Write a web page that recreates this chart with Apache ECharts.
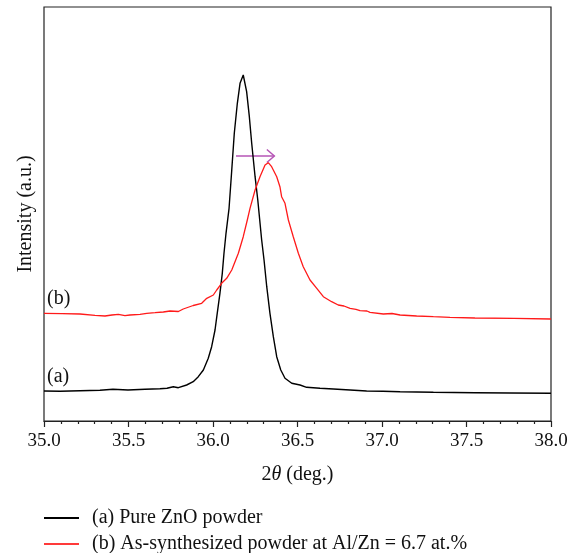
<!DOCTYPE html>
<html>
<head>
<meta charset="utf-8">
<script src="https://cdn.jsdelivr.net/npm/echarts@6/dist/echarts.min.js"></script>
<style>
html,body{margin:0;padding:0;background:#fff;}
#c{width:576px;height:553px;}
</style>
</head>
<body>
<div id="c"></div>
<script>
// 2θ (deg.) and intensity (a.u.)
const pureZnO = [
[35.000,30],[35.095,29.7],[35.213,30.3],[35.331,30.7],[35.408,31.7],[35.497,31],[35.598,31.7],
[35.686,32.3],[35.728,32.7],[35.765,34.3],[35.775,34.3],[35.795,33.3],[35.844,36],[35.883,39.3],
[35.913,44.3],[35.943,51],[35.972,62.7],[35.992,74.3],[36.012,91],[36.025,107.7],[36.041,127.7],
[36.055,147.7],[36.065,167.7],[36.077,187.7],[36.095,212.7],[36.111,251],[36.126,287.7],[36.144,317.7],
[36.160,337.7],[36.179,346],[36.199,329.3],[36.215,304.3],[36.229,277.7],[36.249,244.3],[36.265,221],
[36.288,181],[36.302,161],[36.318,134.3],[36.337,107.7],[36.357,84.3],[36.377,64.3],[36.401,51],
[36.426,42.7],[36.466,37.7],[36.515,36],[36.554,33.7],[36.633,32.7],[36.712,32],[36.811,31],
[36.909,30],[37.006,29.7],[37.107,29.3],[37.304,28.7],[37.550,28.3],[37.757,28],[38.000,27.7]
];
const alDoped = [
[35.000,107.7],[35.107,107.3],[35.213,107],[35.302,105.7],[35.361,105],[35.402,106],[35.440,106.7],
[35.479,105.3],[35.509,106],[35.568,106.7],[35.608,107.7],[35.657,108.3],[35.706,109],[35.746,110],
[35.795,109.5],[35.824,112],[35.883,115.5],[35.933,117.7],[35.963,122.7],[36.002,126],[36.022,131],
[36.051,137.7],[36.081,142.7],[36.111,151],[36.150,167.7],[36.179,184.3],[36.203,201],[36.219,212.7],
[36.249,231],[36.278,244.3],[36.308,256],[36.327,258.3],[36.347,254.3],[36.377,244.3],[36.396,234.3],
[36.406,224.3],[36.426,217.7],[36.446,201],[36.475,184.3],[36.505,167.7],[36.534,154.3],[36.574,141],
[36.614,132.7],[36.653,124.3],[36.702,119.3],[36.741,116],[36.775,115],[36.811,112.7],[36.846,111.7],
[36.870,110.3],[36.911,110],[36.929,108.7],[37.008,107],[37.059,107.5],[37.107,106],[37.205,105],
[37.304,104.3],[37.402,103.7],[37.550,103],[37.781,102.7],[38.000,102]
];
const seriesNames = ['(a) Pure ZnO powder', '(b) As-synthesized powder at Al/Zn = 6.7 at.%'];
const curveLabels = ['(a)', '(b)'];
const arrowFrom = [36.136, 265];
const arrowTo = [36.363, 265];
const xTicks = [35.0, 35.5, 36.0, 36.5, 37.0, 37.5, 38.0];

const FONT = '"Liberation Serif", "Times New Roman", serif';
const chart = echarts.init(document.getElementById('c'));
chart.setOption({
  animation: false,
  grid: {left: 44, right: 25, top: 7, bottom: 132, show: true, borderColor: '#222', borderWidth: 1.2, backgroundColor: 'transparent'},
  xAxis: {
    type: 'value', min: xTicks[0], max: xTicks[xTicks.length - 1], interval: 0.5,
    axisLine: {show: true, lineStyle: {color: '#222', width: 1.2}},
    axisTick: {show: true, length: 6, lineStyle: {color: '#222', width: 1.2}},
    minorTick: {show: true, splitNumber: 5, length: 3, lineStyle: {color: '#222', width: 1.2}},
    splitLine: {show: false},
    axisLabel: {margin: 11, fontFamily: FONT, fontSize: 19, color: '#111', formatter: v => v.toFixed(1)},
    name: '2{i|θ} (deg.)', nameLocation: 'middle', nameGap: 44,
    nameTextStyle: {fontFamily: FONT, fontSize: 20, color: '#111',
      rich: {i: {fontFamily: FONT, fontSize: 20, fontStyle: 'italic', color: '#111'}}}
  },
  yAxis: {
    type: 'value', min: 0, max: 414,
    axisLine: {show: false}, axisTick: {show: false}, axisLabel: {show: false}, splitLine: {show: false},
    name: 'Intensity (a.u.)', nameLocation: 'middle', nameGap: 8,
    nameTextStyle: {fontFamily: FONT, fontSize: 20, color: '#111'}
  },
  legend: {
    orient: 'vertical', left: 44, top: 508, height: 80, padding: 0,
    itemWidth: 35, itemHeight: 2, itemGap: 6,
    icon: 'rect',
    textStyle: {fontFamily: FONT, fontSize: 20, lineHeight: 20, color: '#111', padding: [0, 0, 0, 8]},
    data: seriesNames
  },
  series: [
    {name: seriesNames[0], type: 'line', data: pureZnO, symbol: 'none', lineStyle: {color: '#000', width: 1.4}, itemStyle: {color: '#000'}},
    {name: seriesNames[1], type: 'line', data: alDoped, symbol: 'none', lineStyle: {color: '#ff1a1a', width: 1.3}, itemStyle: {color: '#ff3a3a'}}
  ]
});

const p0 = chart.convertToPixel({gridIndex: 0}, arrowFrom);
const p1 = chart.convertToPixel({gridIndex: 0}, arrowTo);
const pa = chart.convertToPixel({gridIndex: 0}, [35.0, pureZnO[0][1]]);
const pb = chart.convertToPixel({gridIndex: 0}, [35.0, alDoped[0][1]]);
const arrowColor = '#b655b6';
chart.setOption({
  graphic: [
    {type: 'line', shape: {x1: p0[0], y1: p0[1], x2: p1[0], y2: p1[1]}, style: {stroke: arrowColor, lineWidth: 1.5}},
    {type: 'polyline', shape: {points: [[p1[0] - 7.5, p1[1] - 6.5], [p1[0], p1[1]], [p1[0] - 7.5, p1[1] + 6.5]]}, style: {stroke: arrowColor, lineWidth: 1.5, fill: null}},
    {type: 'text', left: 47, top: pb[1] - 25, style: {text: curveLabels[1], font: '20px ' + FONT, fill: '#111'}},
    {type: 'text', left: 47, top: pa[1] - 24, style: {text: curveLabels[0], font: '20px ' + FONT, fill: '#111'}}
  ]
});
</script>
</body>
</html>
